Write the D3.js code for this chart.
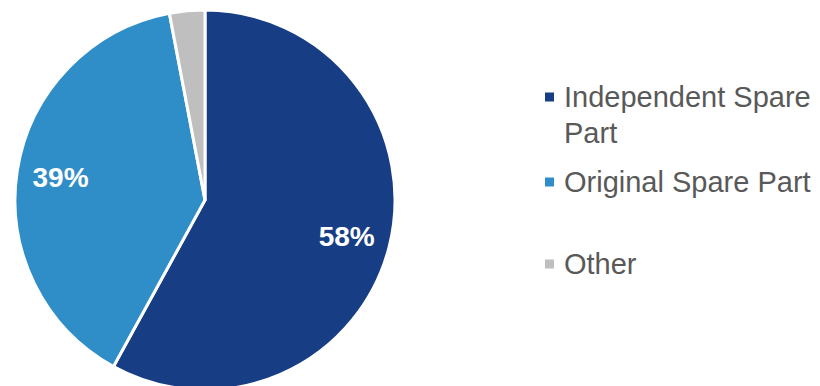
<!DOCTYPE html>
<html>
<head>
<meta charset="utf-8">
<script src="https://cdn.jsdelivr.net/npm/d3@7"></script>
<style>
  html, body { margin: 0; padding: 0; background: #fff; }
  svg { display: block; font-family: "Liberation Sans", Arial, sans-serif; }
</style>
</head>
<body>
<svg id="chart" width="820" height="386"></svg>
<script>
// Share of spare parts by type
const categories = ["Independent Spare Part", "Original Spare Part", "Other"];
const legendLines = [["Independent Spare", "Part"], ["Original Spare Part"], ["Other"]];
const shares = [58, 39, 3];
const colors = ["#173e85", "#2f8ec8", "#bfbfbf"];

const svg = d3.select("#chart");
const cx = 205, cy = 200, radius = 190;

const pie = d3.pie().sort(null).value(d => d.value);
const arcs = pie(categories.map((c, i) => ({ name: c, value: shares[i] })));
const arc = d3.arc().innerRadius(0).outerRadius(radius);
const labelArc = d3.arc().innerRadius(radius * 0.77).outerRadius(radius * 0.77);

const g = svg.append("g").attr("transform", `translate(${cx},${cy})`);

g.selectAll("path")
  .data(arcs)
  .join("path")
  .attr("d", arc)
  .attr("fill", (d, i) => colors[i])
  .attr("stroke", "#fff")
  .attr("stroke-width", 3)
  .attr("stroke-linejoin", "round");

// Percentage labels on the two large slices
g.selectAll("text.pct")
  .data(arcs.filter(d => d.data.value >= 10))
  .join("text")
  .attr("class", "pct")
  .attr("transform", d => `translate(${labelArc.centroid(d)})`)
  .attr("text-anchor", "middle")
  .attr("dy", "0.35em")
  .attr("fill", "#fff")
  .attr("font-weight", "bold")
  .attr("font-size", 28)
  .text(d => d.data.value + "%");

// Legend
const legendY = [97, 182, 264];
const legend = svg.append("g").attr("transform", "translate(545,0)");
categories.forEach((c, i) => {
  const item = legend.append("g").attr("transform", `translate(0,${legendY[i]})`);
  item.append("rect")
    .attr("x", 0).attr("y", -4.5)
    .attr("width", 9).attr("height", 9)
    .attr("fill", colors[i]);
  const t = item.append("text")
    .attr("x", 19)
    .attr("fill", "#595959")
    .attr("font-size", 29);
  legendLines[i].forEach((line, j) => {
    t.append("tspan")
      .attr("x", 19)
      .attr("dy", j === 0 ? "0.35em" : 36)
      .text(line);
  });
});
</script>
</body>
</html>
